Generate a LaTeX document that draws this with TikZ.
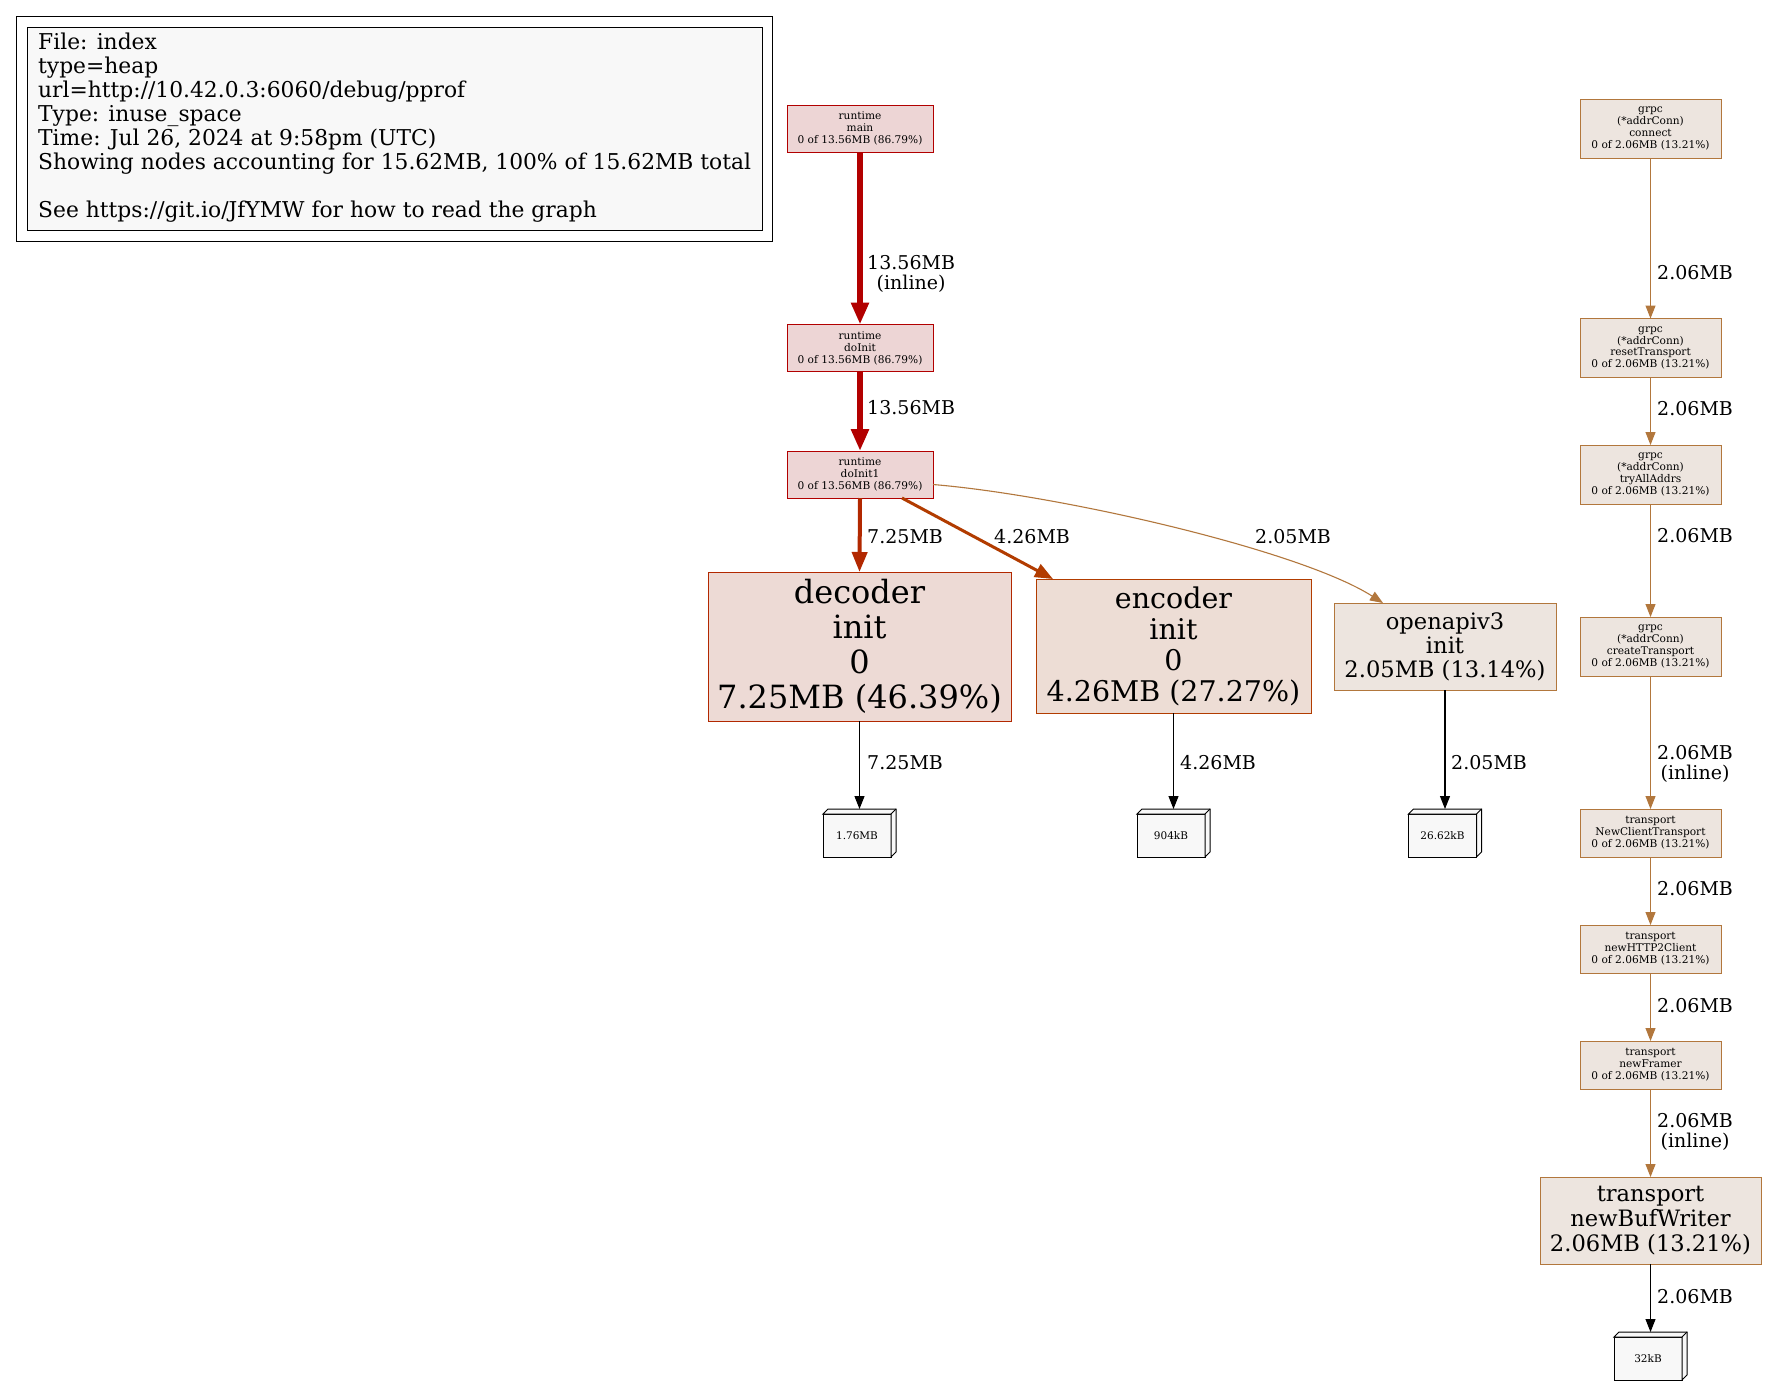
\documentclass[tikz,border=0pt]{standalone}
\usepackage{fontspec}
\setmainfont{DejaVu Serif}
\usetikzlibrary{arrows.meta,calc}
\definecolor{rtfill}{HTML}{EDD5D5}
\definecolor{rtdraw}{HTML}{B20000}
\definecolor{decfill}{HTML}{EDDAD5}
\definecolor{decdraw}{HTML}{B22800}
\definecolor{encfill}{HTML}{EDDDD5}
\definecolor{encdraw}{HTML}{B23C00}
\definecolor{lofill}{HTML}{EDE5DF}
\definecolor{lodraw}{HTML}{B2773D}
\definecolor{cubefill}{HTML}{F8F8F8}
\begin{document}
\begin{tikzpicture}[x=1pt,y=-1pt,
  box/.style={draw, rectangle, line width=1pt, inner sep=0pt, outer sep=0pt, align=center},
  rtbox/.style={box, draw=rtdraw, fill=rtfill, minimum width=146pt, minimum height=47pt, font=\fontsize{10.6}{12}\selectfont},
  lobox/.style={box, draw=lodraw, fill=lofill},
  grpcfour/.style={lobox, minimum width=141pt, minimum height=59pt, font=\fontsize{10.6}{11.8}\selectfont},
  grpcthree/.style={lobox, minimum width=141pt, minimum height=48pt, font=\fontsize{10.6}{11.8}\selectfont},
  cubebox/.style={draw, rectangle, fill=cubefill, line width=1pt, inner sep=0pt, outer sep=0pt, minimum width=68pt, minimum height=43pt, font=\fontsize{10.5}{12}\selectfont},
  rtedge/.style={draw=rtdraw, line width=6pt, -{Triangle[length=22pt,width=17pt]}},
  decedge/.style={draw=decdraw, line width=4pt, -{Triangle[length=20pt,width=15pt]}},
  encedge/.style={draw=encdraw, line width=3pt, -{Triangle[length=18pt,width=14pt]}},
  loedge/.style={draw=lodraw, line width=1.1pt, -{Triangle[length=13pt,width=10pt]}},
  blkedge/.style={draw=black, line width=1.1pt, -{Triangle[length=13pt,width=10pt]}},
  lbl/.style={font=\fontsize{19}{20}\selectfont, anchor=west, inner sep=0pt, align=center}
]
\useasboundingbox (0,0) rectangle (1767,1385);
\fill[white] (0,0) rectangle (1767,1385);

% legend
\node[draw, line width=1pt, fill=white, minimum width=756pt, minimum height=225pt, anchor=north west, inner sep=0pt, outer sep=0pt] (legout) at (16,16) {};
\node[draw, line width=1pt, fill=cubefill, minimum width=735pt, minimum height=203pt, anchor=north west, inner sep=0pt, outer sep=0pt] (legin) at (27,27) {};
\node[anchor=west, align=left, inner sep=0pt, font=\fontsize{21.8}{24}\selectfont] (legtext) at (38,128) {File: index\\type=heap\\url=http://10.42.0.3:6060/debug/pprof\\Type: inuse\_space\\Time: Jul 26, 2024 at 9:58pm (UTC)\\Showing nodes accounting for 15.62MB, 100\% of 15.62MB total\\\strut\\See https://git.io/JfYMW for how to read the graph};

% runtime column
\node[rtbox] (main) at (860,128.5) {runtime\\main\\0 of 13.56MB (86.79\%)};
\node[rtbox] (doinit) at (860,348) {runtime\\doInit\\0 of 13.56MB (86.79\%)};
\node[rtbox] (doinit1) at (860,474.5) {runtime\\doInit1\\0 of 13.56MB (86.79\%)};
\node[box, draw=decdraw, fill=decfill, minimum width=303pt, minimum height=149pt, font=\fontsize{32}{35}\selectfont] (decoder) at (859.5,646.5) {decoder\\init\\0\\7.25MB (46.39\%)};
\node[box, draw=encdraw, fill=encfill, minimum width=275pt, minimum height=134pt, font=\fontsize{28.5}{31}\selectfont] (encoder) at (1173.5,646) {encoder\\init\\0\\4.26MB (27.27\%)};
\node[lobox, minimum width=222pt, minimum height=87pt, font=\fontsize{22.6}{24}\selectfont] (openapi) at (1445,646.5) {openapiv3\\init\\2.05MB (13.14\%)};

% grpc column
\node[grpcfour] (connect) at (1650.5,128.5) {grpc\\(*addrConn)\\connect\\0 of 2.06MB (13.21\%)};
\node[grpcfour] (reset) at (1650.5,348) {grpc\\(*addrConn)\\resetTransport\\0 of 2.06MB (13.21\%)};
\node[grpcfour] (tryall) at (1650.5,474.5) {grpc\\(*addrConn)\\tryAllAddrs\\0 of 2.06MB (13.21\%)};
\node[grpcfour] (create) at (1650.5,646.5) {grpc\\(*addrConn)\\createTransport\\0 of 2.06MB (13.21\%)};
\node[grpcthree] (nct) at (1650.5,833) {transport\\NewClientTransport\\0 of 2.06MB (13.21\%)};
\node[grpcthree] (h2c) at (1650.5,949) {transport\\newHTTP2Client\\0 of 2.06MB (13.21\%)};
\node[grpcthree] (framer) at (1650.5,1065) {transport\\newFramer\\0 of 2.06MB (13.21\%)};
\node[lobox, minimum width=221pt, minimum height=87pt, font=\fontsize{22.6}{25}\selectfont] (bufw) at (1650.5,1220.5) {transport\\newBufWriter\\2.06MB (13.21\%)};

% cubes
\node[cubebox] (k1) at (857,835.5) {1.76MB};
\node[cubebox] (k2) at (1171,835.5) {904kB};
\node[cubebox] (k3) at (1442.5,835.5) {26.62kB};
\node[cubebox] (k4) at (1648,1358.5) {32kB};
\foreach \c in {k1,k2,k3,k4} {
  \filldraw[fill=cubefill, line width=1pt, line join=miter] (\c.north west) -- ++(5,-5) -- ++(68,0) -- ++(0,43) -- (\c.south east) -- (\c.north east) -- cycle;
  \draw[line width=1pt] (\c.north east) -- ++(5,-5);
}

% edges
\draw[rtedge] (main.south) -- (doinit.north);
\draw[rtedge] (doinit.south) -- (doinit1.north);
\draw[decedge] (doinit1.south) -- (decoder.north);
\draw[encedge] ($(doinit1.south)+(42,0)$) -- ($(encoder.north west)+(17,0)$);
\draw[loedge] ($(doinit1.east)+(0,10)$) .. controls (1060,495) and (1300,550) .. ($(openapi.north west)+(49,0)$);
\draw[blkedge] (decoder.south) -- ($(k1.north)+(2.5,-5)$);
\draw[blkedge] (encoder.south) -- ($(k2.north)+(2.5,-5)$);
\draw[blkedge] (openapi.south) -- ($(k3.north)+(2.5,-5)$);
\draw[loedge] (connect.south) -- (reset.north);
\draw[loedge] (reset.south) -- (tryall.north);
\draw[loedge] (tryall.south) -- (create.north);
\draw[loedge] (create.south) -- (nct.north);
\draw[loedge] (nct.south) -- (h2c.north);
\draw[loedge] (h2c.south) -- (framer.north);
\draw[loedge] (framer.south) -- (bufw.north);
\draw[blkedge] (bufw.south) -- ($(k4.north)+(2.5,-5)$);

% labels
\node[lbl] (l1) at (867,273.5) {13.56MB\\(inline)};
\node[lbl] (l2) at (867,408) {13.56MB};
\node[lbl] (l3) at (867,537) {7.25MB};
\node[lbl] (l4) at (994,537) {4.26MB};
\node[lbl] (l5) at (1255,537) {2.05MB};
\node[lbl] (l6) at (867,763) {7.25MB};
\node[lbl] (l7) at (1180,763) {4.26MB};
\node[lbl] (l8) at (1451,763) {2.05MB};
\node[lbl] (l9) at (1657,273) {2.06MB};
\node[lbl] (l10) at (1657,409) {2.06MB};
\node[lbl] (l11) at (1657,536) {2.06MB};
\node[lbl] (l12) at (1657,763.5) {2.06MB\\(inline)};
\node[lbl] (l13) at (1657,889) {2.06MB};
\node[lbl] (l14) at (1657,1006) {2.06MB};
\node[lbl] (l15) at (1657,1131.5) {2.06MB\\(inline)};
\node[lbl] (l16) at (1657,1297) {2.06MB};
\end{tikzpicture}
\end{document}
